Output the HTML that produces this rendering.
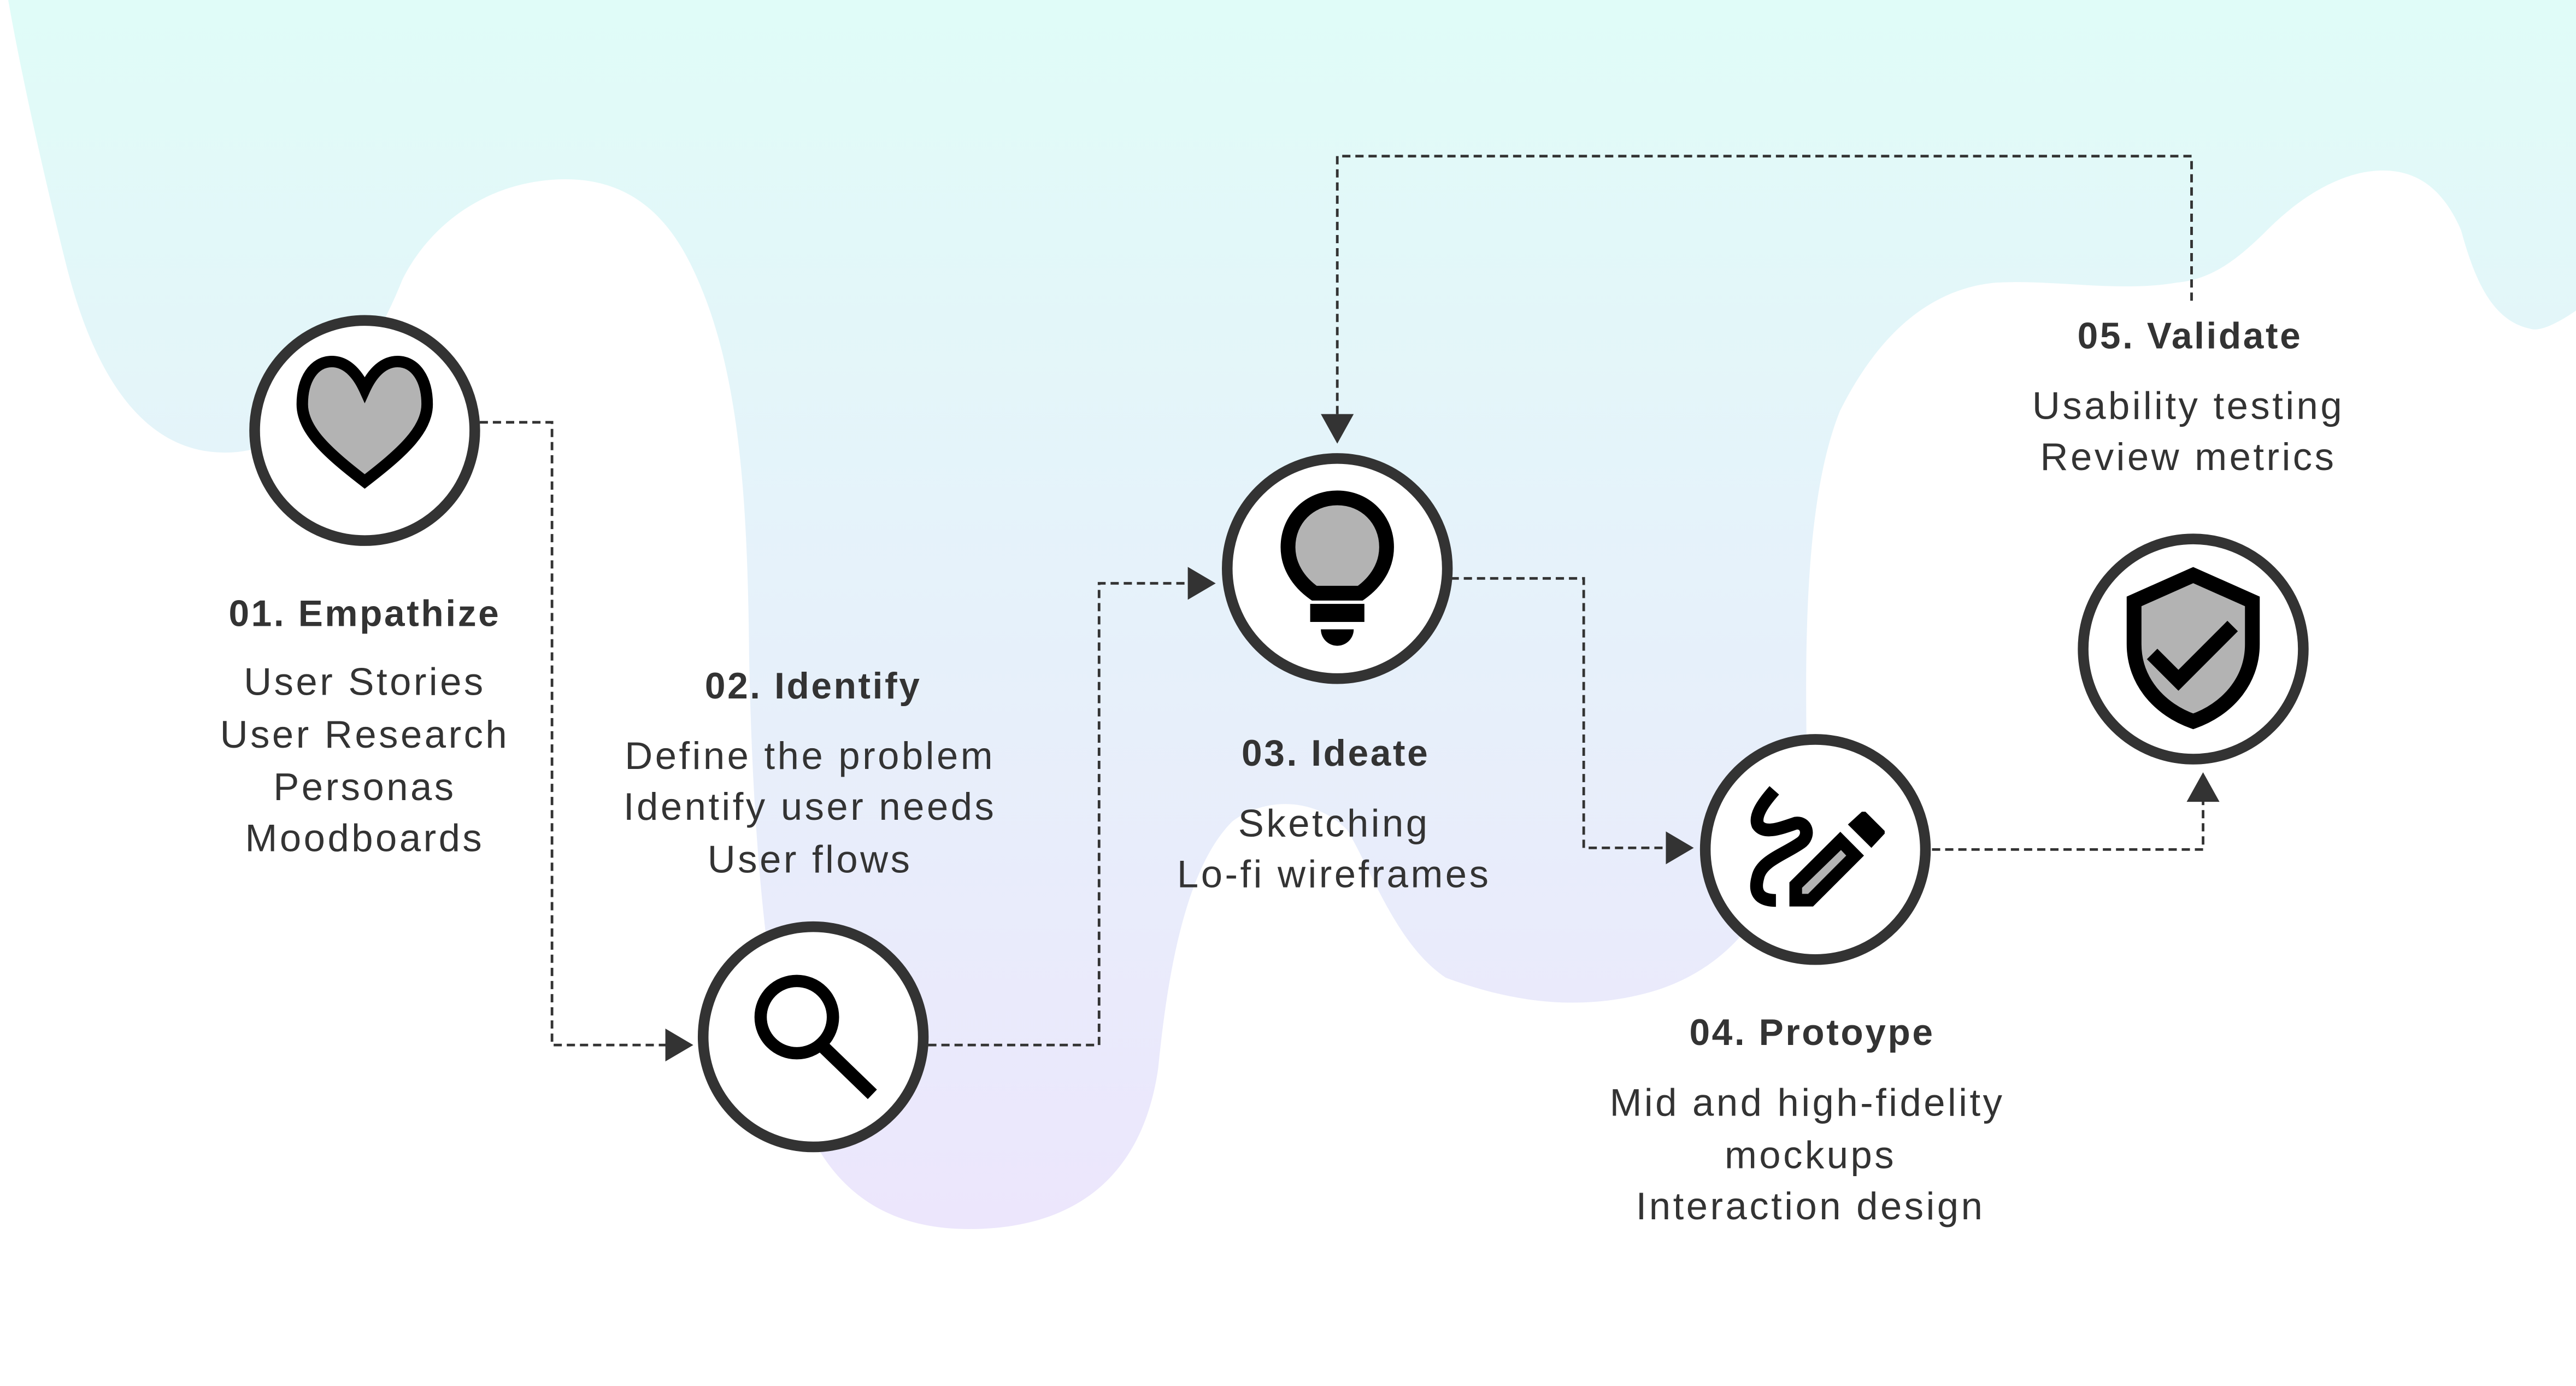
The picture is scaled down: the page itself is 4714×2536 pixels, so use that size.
<!DOCTYPE html>
<html><head><meta charset="utf-8"><style>
html,body{margin:0;padding:0;background:#fff;}
svg{display:block;}
text{font-family:"Liberation Sans",sans-serif;fill:#333;text-anchor:middle;}
.t{font-weight:bold;font-size:22.5px;letter-spacing:1.2px;}
.b{font-size:23.5px;letter-spacing:1.5px;}
</style></head><body>
<svg width="4714" height="2536" viewBox="0 0 1568 843.5" xmlns="http://www.w3.org/2000/svg">
<defs>
<linearGradient id="g" x1="0" y1="0" x2="0" y2="750" gradientUnits="userSpaceOnUse">
<stop offset="0" stop-color="#e0fcf8"/><stop offset="1" stop-color="#ece6fc"/>
</linearGradient>
</defs>
<rect width="1568" height="843.5" fill="#fff"/>
<path fill="url(#g)" d="M0,0 H1568 V189 C1555,198 1545,202 1540,200 C1515,195 1505,165 1498,140 C1485,110 1465,100 1438,105 C1415,110 1395,125 1380,140 C1360,160 1345,170 1325,172 C1290,178 1250,170 1215,172 C1170,176 1140,210 1120,250 C1100,300 1098,380 1100,470 C1090,540 1060,590 1000,605 C960,615 920,610 880,595 C850,575 835,530 820,505 C800,485 770,485 750,500 C720,530 710,600 705,650 C695,720 650,748 590,748 C530,748 500,715 485,670 C465,600 458,500 456,400 C455,300 450,220 420,160 C400,120 370,105 330,110 C290,115 260,140 245,170 C225,220 190,270 145,275 C95,280 60,240 40,160 C25,100 12,40 5,0 Z"/>

<g fill="none" stroke="#333" stroke-width="1.6" stroke-dasharray="5,3">
<path d="M292,257 H336 V636 H408"/>
<path d="M565,636 H669 V355 H726"/>
<path d="M883,352 H964 V516 H1016"/>
<path d="M1176,517 H1341 V486"/>
<path d="M1334,183 V95 H814 V254"/>
</g>
<g fill="#333">
<path d="M422,636 L405,626 L405,646 Z"/>
<path d="M740,355 L723,345 L723,365 Z"/>
<path d="M1031,516 L1014,506 L1014,526 Z"/>
<path d="M1341,470 L1331,488 L1351,488 Z"/>
<path d="M814,270 L804,252 L824,252 Z"/>
</g>

<g fill="#fff" stroke="#333" stroke-width="6.5">
<circle cx="222" cy="262" r="67"/>
<circle cx="495" cy="631" r="67"/>
<circle cx="814" cy="346" r="67"/>
<circle cx="1105" cy="517" r="67"/>
<circle cx="1335" cy="395" r="67"/>
</g>

<!-- heart -->
<path d="M222,237 C217,226 210,220 202,220 C191,220 184,231 184,246 C184,262 200,276 222,293 C244,276 260,262 260,246 C260,231 253,220 242,220 C234,220 227,226 222,237 Z" fill="#b3b3b3" stroke="#000" stroke-width="7" stroke-linejoin="miter"/>
<!-- magnifier -->
<circle cx="485" cy="619" r="22" fill="none" stroke="#000" stroke-width="7.5"/>
<line x1="501" y1="637" x2="531" y2="666" stroke="#000" stroke-width="8"/>
<!-- bulb -->
<path d="M800,361 C790,354 784,344 784,333 C784,316 797,303 814,303 C831,303 844,316 844,333 C844,344 838,354 828,361 Z" fill="#b3b3b3" stroke="#000" stroke-width="9"/>
<rect x="797.5" y="367.5" width="33" height="11" fill="#000"/>
<path d="M804,383 H824 A10,10 0 0 1 804,383 Z" fill="#000"/>
<!-- squiggle pencil -->
<path d="M1080,481 C1072,490 1068,497 1070,502 C1074,508 1084,504 1093,501 C1100,500 1102,509 1096,513 C1086,520 1072,524 1070,534 C1067,545 1073,548 1081,548" fill="none" stroke="#000" stroke-width="7.8"/>
<path d="M1089.2,537 L1120.2,506.2 L1134.6,520.7 L1103.6,551.7 L1089.2,551.7 Z" fill="#000"/>
<path d="M1096.9,540.3 L1096.9,544 L1100.6,544 L1123.8,520.7 L1120.6,517.3 Z" fill="#b3b3b3"/>
<path d="M1124.8,501.8 L1133.3,494 L1135.5,494 L1147.2,505.7 L1147.2,507.3 L1139.1,516 Z" fill="#000"/>
<!-- shield -->
<path d="M1335,350 L1299,366 V392 C1299,415 1315,432 1335,439 C1355,432 1371,415 1371,392 V366 Z" fill="#b3b3b3" stroke="#000" stroke-width="9"/>
<polyline points="1310,398 1326,414 1359,381" fill="none" stroke="#000" stroke-width="9"/>

<text class="t" x="222" y="381">01. Empathize</text>
<text class="b" x="222" y="423">User Stories</text>
<text class="b" x="222" y="455">User Research</text>
<text class="b" x="222" y="487">Personas</text>
<text class="b" x="222" y="518">Moodboards</text>

<text class="t" x="495" y="425">02. Identify</text>
<text class="b" x="493" y="468">Define the problem</text>
<text class="b" x="493" y="499">Identify user needs</text>
<text class="b" x="493" y="531">User flows</text>

<text class="t" x="813" y="466">03. Ideate</text>
<text class="b" x="812" y="509">Sketching</text>
<text class="b" x="812" y="540">Lo-fi wireframes</text>

<text class="t" x="1103" y="636">04. Protoype</text>
<text class="b" x="1100" y="679">Mid and high-fidelity</text>
<text class="b" x="1102" y="711">mockups</text>
<text class="b" x="1102" y="742">Interaction design</text>

<text class="t" x="1333" y="212">05. Validate</text>
<text class="b" x="1332" y="255">Usability testing</text>
<text class="b" x="1332" y="286">Review metrics</text>
</svg>
</body></html>
